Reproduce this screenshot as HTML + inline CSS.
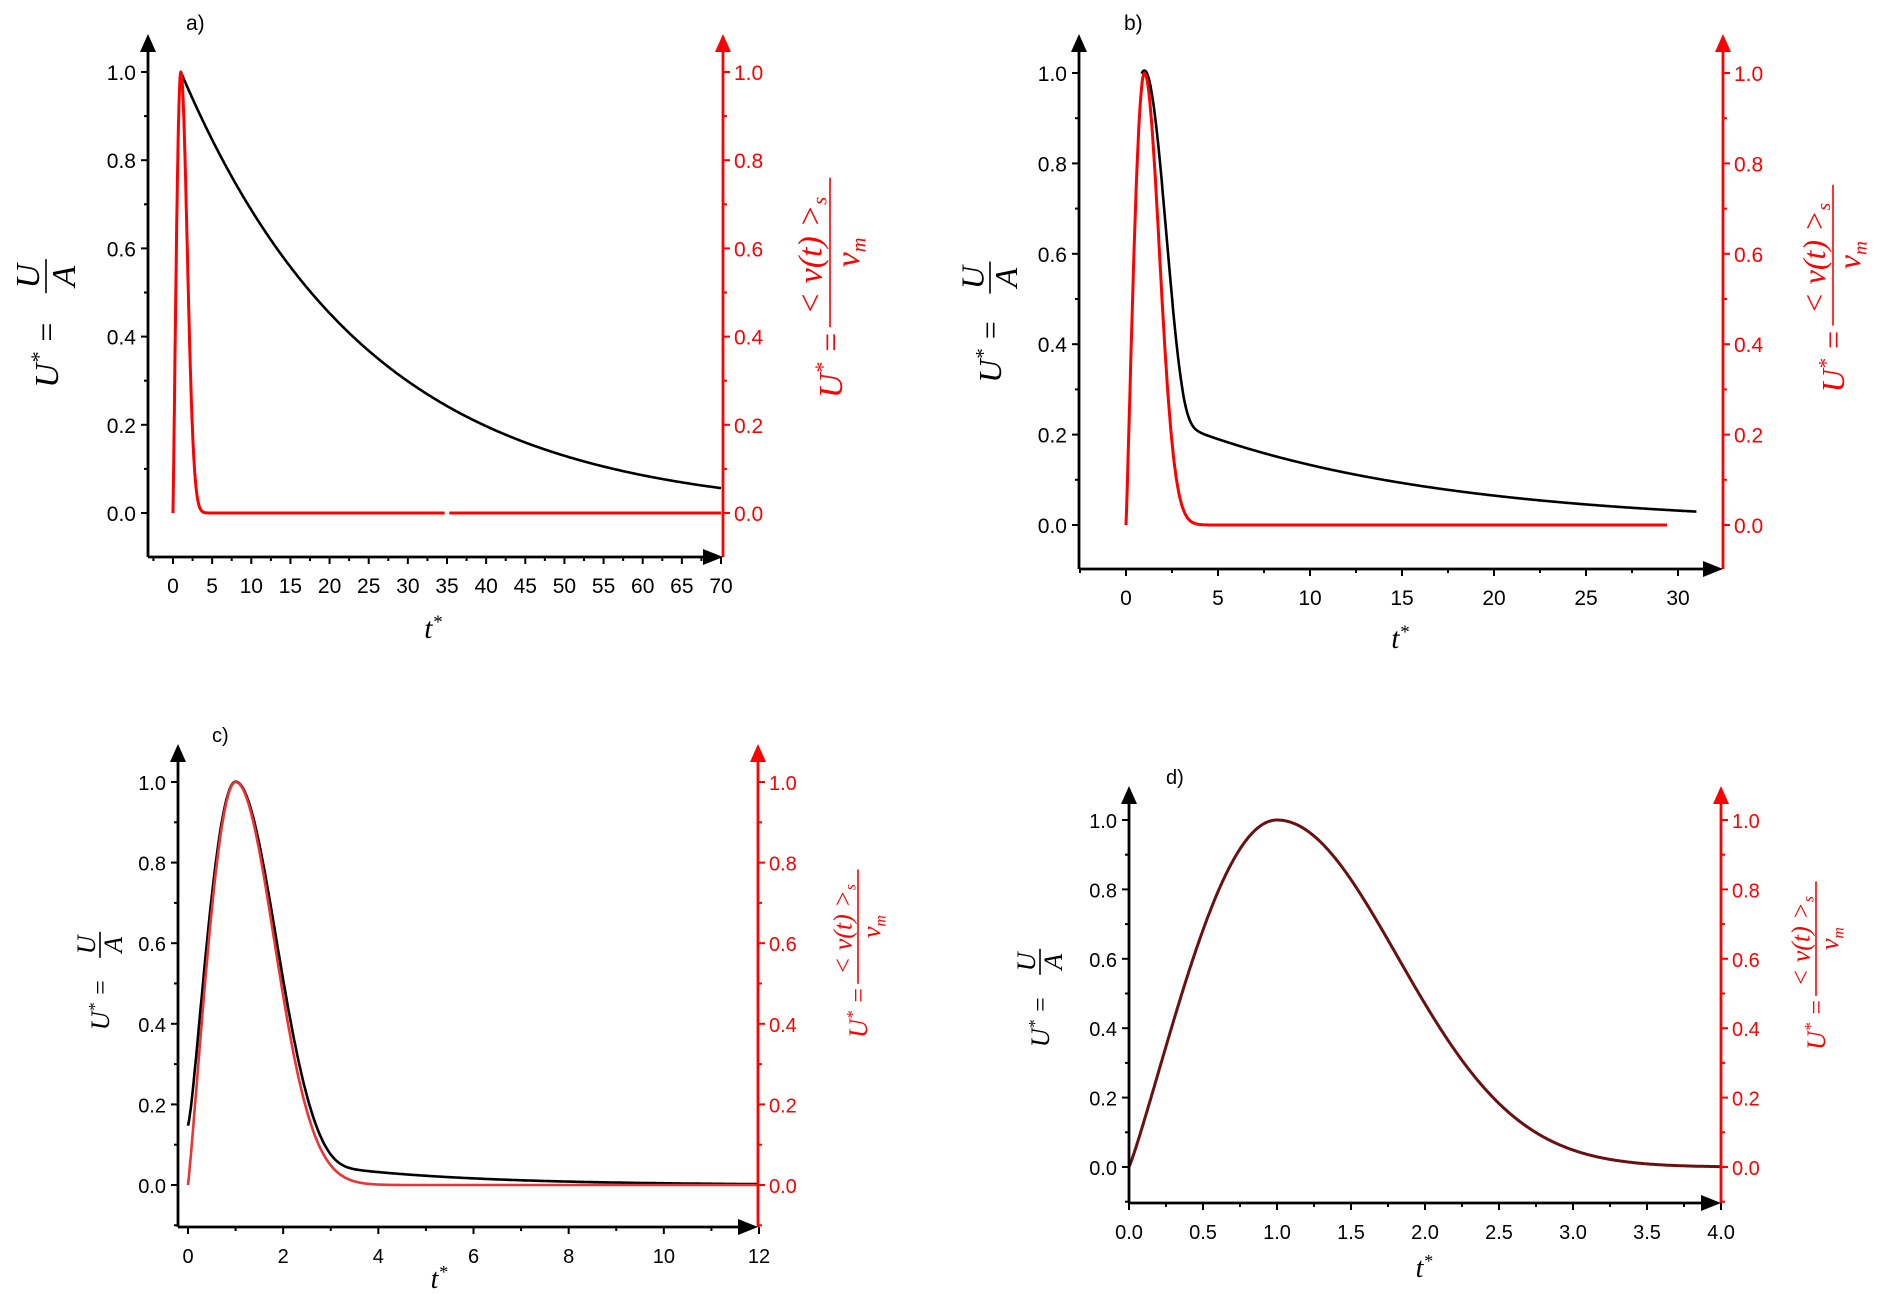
<!DOCTYPE html>
<html><head><meta charset="utf-8">
<style>
html,body{margin:0;padding:0;background:#fff;}
svg{display:block;}
text{font-family:"Liberation Sans",sans-serif;}
.m{font-family:"Liberation Serif",serif;font-style:italic;}
</style></head>
<body>
<svg id="s" width="1887" height="1294" viewBox="0 0 1887 1294" xmlns="http://www.w3.org/2000/svg"></svg>
<script>
const S=document.getElementById('s');let out='';
const RED='#f00';
function gauss(t,s){return Math.exp(-(t-1)*(t-1)/(2*s*s));}
function pulse(t){if(t<=0)return 0;if(t<1)return Math.pow(Math.sin(Math.PI*t/2),1.1);return gauss(t,0.814);}
function panel(c){
 const X=v=>c.x0+(v-c.xa)*(c.x1-c.x0)/(c.xb-c.xa);
 const Y=v=>c.y0-(v)*(c.y0-c.y1);
 for(const cv of c.curves){
  let d='';const n=800;
  for(let i=0;i<=n;i++){const t=cv.from+(cv.to-cv.from)*i/n;const v=cv.f(t);d+=(i?'L':'M')+X(t).toFixed(1)+' '+Y(v).toFixed(1);}
  out+=`<path d="${d}" fill="none" stroke="${cv.col}" stroke-width="${cv.w||2.6}" stroke-linejoin="round"/>`;
 }
 out+=`<line x1="${c.L}" y1="${c.B}" x2="${c.L}" y2="${c.T+14}" stroke="#000" stroke-width="2.8"/>`;
 out+=`<polygon points="${c.L-8},${c.T+18} ${c.L+8},${c.T+18} ${c.L},${c.T}" fill="#000"/>`;
 out+=`<line x1="${c.R}" y1="${c.B}" x2="${c.R}" y2="${c.T+14}" stroke="${RED}" stroke-width="2.8"/>`;
 out+=`<polygon points="${c.R-8},${c.T+18} ${c.R+8},${c.T+18} ${c.R},${c.T}" fill="${RED}"/>`;
 out+=`<line x1="${c.L}" y1="${c.B}" x2="${c.R-6}" y2="${c.B}" stroke="#000" stroke-width="2.8"/>`;
 out+=`<polygon points="${c.R-20},${c.B-8} ${c.R-20},${c.B+8} ${c.R},${c.B}" fill="#000"/>`;
 for(let k=-1;k<=10;k++){const v=k/10;const y=Y(v);if(y>c.B-1)continue;const maj=k%2==0&&k>=0;const len=maj?7:4;
  out+=`<line x1="${c.L-len}" y1="${y}" x2="${c.L}" y2="${y}" stroke="#000" stroke-width="2"/>`;
  out+=`<line x1="${c.R}" y1="${y}" x2="${c.R+len}" y2="${y}" stroke="${RED}" stroke-width="2"/>`;
  if(maj){out+=`<text x="${c.L-12}" y="${y+8}" text-anchor="end" font-size="${c.fs}" fill="#000">${v.toFixed(1)}</text>`;
   out+=`<text x="${c.R+11}" y="${y+8}" font-size="${c.fs}" fill="${RED}">${v.toFixed(1)}</text>`;}
 }
 for(let v=c.xmajStart-c.minor*4;v<=c.xb+1e-9;v+=c.minor){const x=X(v);if(x<c.L-1||x>c.R+1)continue;
  const maj=Math.abs(((v-c.xmajStart)/c.major)-Math.round((v-c.xmajStart)/c.major))<1e-6&&v>=c.xmajStart-1e-9;
  out+=`<line x1="${x}" y1="${c.B}" x2="${x}" y2="${c.B+(maj?7:4)}" stroke="#000" stroke-width="2"/>`;
  if(maj)out+=`<text x="${x}" y="${c.B+36}" text-anchor="middle" font-size="${c.fs}">${c.fmt(v)}</text>`;
 }
 out+=`<text x="${c.lab[0]}" y="${c.lab[1]}" font-size="${c.fs}">${c.lab[2]}</text>`;
 out+=`<text class="m" x="${c.tx[0]}" y="${c.tx[1]}" font-size="${c.fs*1.4}" text-anchor="middle">t<tspan dy="-10" font-size="${c.fs*0.9}">*</tspan></text>`;
 const f=c.afs;
 out+=`<g transform="translate(${c.ll[0]},${c.ll[1]}) rotate(-90)">
 <text class="m" x="${-f*1.6}" y="${f*0.35}" font-size="${f}" text-anchor="middle">U<tspan dy="${-f*0.35}" font-size="${f*0.65}">*</tspan><tspan dy="${f*0.35}"> =</tspan></text>
 <line x1="${f*0.2}" y1="0" x2="${f*1.2}" y2="0" stroke="#000" stroke-width="1.6"/>
 <text class="m" x="${f*0.7}" y="${-f*0.2}" font-size="${f}" text-anchor="middle">U</text>
 <text class="m" x="${f*0.7}" y="${f*0.85}" font-size="${f}" text-anchor="middle">A</text></g>`;
 out+=`<g transform="translate(${c.rl[0]},${c.rl[1]}) rotate(-90)" fill="${RED}">
 <text class="m" x="${-f*1.9}" y="${f*0.35}" font-size="${f}" text-anchor="middle">U<tspan dy="${-f*0.35}" font-size="${f*0.65}">*</tspan><tspan dy="${f*0.35}"> =</tspan></text>
 <line x1="${-f*0.8}" y1="0" x2="${f*3.6}" y2="0" stroke="${RED}" stroke-width="1.6"/>
 <text class="m" x="${f*1.3}" y="${-f*0.25}" font-size="${f}" text-anchor="middle">&lt; v(t) &gt;<tspan dy="${f*0.15}" font-size="${f*0.6}">s</tspan></text>
 <text class="m" x="${f*1.4}" y="${f*0.85}" font-size="${f}" text-anchor="middle">v<tspan dy="${f*0.2}" font-size="${f*0.6}">m</tspan></text></g>`;
}
const tailB=t=>0.19*Math.exp(-(t-5)/14);
panel({L:148,R:723,B:557,T:34,x0:173,x1:721,xa:0,xb:70,y0:513,y1:72,xmajStart:0,major:5,minor:2.5,fs:21,fmt:v=>v,
 lab:[186,30,'a)'],tx:[433,638],ll:[46,300],rl:[830,300],afs:34,
 curves:[{from:1,to:70,f:t=>Math.exp(-(t-1)/24),col:'#000'},
  {from:0,to:34.7,f:t=>pulse(t),col:RED,w:3},{from:35.3,to:70,f:t=>0,col:RED,w:3}]});
panel({L:1079,R:1723,B:569,T:34,x0:1126,x1:1678,xa:0,xb:30,y0:525,y1:73,xmajStart:0,major:5,minor:2.5,fs:21,fmt:v=>v,
 lab:[1124,30,'b)'],tx:[1400,648],ll:[990,300],rl:[1833,300],afs:32,
 curves:[{from:0.85,to:31,f:t=>{const g=gauss(t,1.25);const a=tailB(t);return Math.pow(Math.pow(g,3)+Math.pow(a,3),1/3);},col:'#000'},
  {from:0,to:29.4,f:t=>pulse(t),col:RED,w:3}]});
panel({L:178,R:758,B:1227,T:744,x0:188,x1:759,xa:0,xb:12,y0:1185,y1:782,xmajStart:0,major:2,minor:1,fs:20,fmt:v=>v,
 lab:[212,742,'c)'],tx:[439,1288],ll:[100,963],rl:[858,963],afs:26,
 curves:[{from:0,to:12,f:t=>{const g=t<1?0.1+0.9*Math.pow(Math.sin(Math.PI*t/2),1.1):gauss(t,0.86);const a=0.032*Math.exp(-(t-4)/3);return Math.pow(Math.pow(g,2.5)+Math.pow(a,2.5),0.4);},col:'#000'},
  {from:0,to:12,f:t=>pulse(t),col:'#e33'}]});
panel({L:1129,R:1721,B:1203,T:786,x0:1129,x1:1721,xa:0,xb:4,y0:1167,y1:820,xmajStart:0,major:0.5,minor:0.25,fs:20,fmt:v=>v.toFixed(1),
 lab:[1166,784,'d)'],tx:[1424,1277],ll:[1040,980],rl:[1816,975],afs:26,
 curves:[{from:0,to:4,f:t=>pulse(t),col:'#6a1010',w:3}]});
S.innerHTML=out;
</script>
</body></html>
